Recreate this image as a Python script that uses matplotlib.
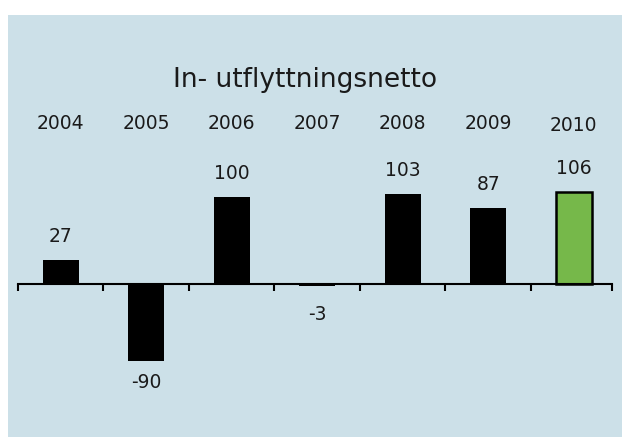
import matplotlib
matplotlib.use("Agg")
import matplotlib.pyplot as plt
import matplotlib.transforms as mtransforms
from matplotlib.patches import Rectangle

years = ["2004", "2005", "2006", "2007", "2008", "2009", "2010"]
values = [27, -90, 100, -3, 103, 87, 106]
value_labels = ["27", "-90", "100", "-3", "103", "87", "106"]
title = "In- utflyttningsnetto"

W, H = 622, 437
fig = plt.figure(figsize=(W / 100, H / 100), dpi=100)
fig.patch.set_facecolor("white")

bg = "#cce0e8"
fig.patches.append(Rectangle((8 / W, 0), 1 - 8 / W, 1 - 15 / H,
                             transform=fig.transFigure, facecolor=bg,
                             edgecolor="none", zorder=-10))

ax_top, ax_bot = 150, 420
ax = fig.add_axes([18 / W, 1 - ax_bot / H, (612 - 18) / W, (ax_bot - ax_top) / H])
ax.set_facecolor("none")
ax.set_zorder(5)

zero_px = 283.5
scale = 0.866
ax.set_ylim(-(ax_bot - zero_px) / scale, (zero_px - ax_top) / scale)
spacing = 85.5
xmax = -0.5 + (612 - 18) / spacing
ax.set_xlim(-0.5, xmax)

x = list(range(len(years)))
colors = ["black"] * (len(years) - 1) + ["#76b84a"]
ax.bar(x, values, width=0.42, color=colors, edgecolor="black",
       linewidth=[0] * (len(years) - 1) + [1.8], zorder=3)

for s in ["top", "right", "left"]:
    ax.spines[s].set_visible(False)
ax.spines["bottom"].set_position(("data", 0))
ax.spines["bottom"].set_linewidth(1.5)
ax.spines["bottom"].set_zorder(4)
ax.set_yticks([])
ax.set_xticks([i - 0.5 for i in range(len(years))] + [xmax])
ax.set_xticklabels([])
ax.tick_params(axis="x", direction="out", length=5, width=1.5, color="black")

txt_color = "#1a1a1a"
neg_off = {-90: -8.5, -3: -13.5}
for xi, v, lab in zip(x, values, value_labels):
    if v >= 0:
        ax.annotate(lab, (xi, v), xytext=(0, 13), textcoords="offset points",
                    ha="center", va="baseline", fontsize=13.5, color=txt_color)
    else:
        ax.annotate(lab, (xi, v), xytext=(0, neg_off.get(v, -8)),
                    textcoords="offset points", ha="center", va="top",
                    fontsize=13.5, color=txt_color)

trans = mtransforms.blended_transform_factory(ax.transData, fig.transFigure)
for xi, y in zip(x, years):
    base = 131 if y == "2010" else 129.3
    ax.text(xi, 1 - base / H, y, transform=trans, ha="center", va="baseline",
            fontsize=13.5, color=txt_color)

fig.text(305 / W, 1 - 87 / H, title, ha="center", va="baseline",
         fontsize=19, color=txt_color)

fig.savefig("out.png", dpi=100, facecolor=fig.get_facecolor())
